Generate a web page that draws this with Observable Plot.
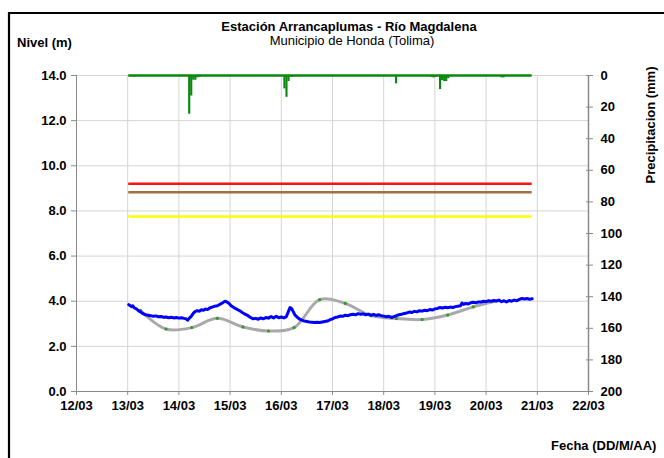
<!DOCTYPE html>
<html>
<head>
<meta charset="utf-8">
<script src="https://cdn.jsdelivr.net/npm/d3@7"></script>
<script src="https://cdn.jsdelivr.net/npm/@observablehq/plot@0.6"></script>
<style>
  body { margin: 0; background: #fff; }
  #chart { width: 664px; height: 458px; overflow: hidden; }
</style>
</head>
<body>
<div id="chart"></div>
<script>
// ---- Data ----
const titleText = "Estación Arrancaplumas - Río Magdalena";
const subtitleText = "Municipio de Honda (Tolima)";
const yLabelLeft = "Nivel (m)";
const yLabelRight = "Precipitacion (mm)";
const xLabel = "Fecha (DD/M/AA)";

// x: day of March
const dayTicks = [12, 13, 14, 15, 16, 17, 18, 19, 20, 21, 22];
const levelTicks = [0, 2, 4, 6, 8, 10, 12, 14];
const precipTicks = [0, 20, 40, 60, 80, 100, 120, 140, 160, 180, 200];

// alert thresholds (m)
const alertLevels = [9.2, 8.83, 7.75];
const alertColors = ["#ff1010", "#a07040", "#ffff00"];
const alertStart = 13.02;
const alertEnd = 20.9;

// observed level (blue)
const obsDay = [13.02,13.05,13.08,13.10,13.13,13.17,13.21,13.25,13.30,13.35,13.40,13.45,13.50,13.55,13.60,13.65,13.70,13.75,13.80,13.85,13.90,13.95,14.00,14.05,14.10,14.14,14.17,14.20,14.24,14.28,14.32,14.36,14.40,14.44,14.48,14.52,14.56,14.60,14.65,14.70,14.75,14.80,14.85,14.88,14.91,14.94,14.98,15.02,15.06,15.10,15.15,15.20,15.25,15.30,15.35,15.40,15.45,15.50,15.55,15.60,15.65,15.70,15.75,15.80,15.85,15.90,15.95,16.00,16.05,16.10,16.14,16.17,16.20,16.23,16.27,16.31,16.35,16.40,16.45,16.50,16.55,16.60,16.65,16.70,16.75,16.80,16.85,16.90,16.95,17.00,17.05,17.10,17.15,17.20,17.25,17.30,17.35,17.40,17.45,17.50,17.55,17.60,17.65,17.70,17.75,17.80,17.85,17.90,17.95,18.00,18.05,18.10,18.15,18.20,18.25,18.30,18.35,18.40,18.45,18.50,18.55,18.60,18.65,18.70,18.75,18.80,18.85,18.90,18.95,19.00,19.05,19.10,19.15,19.20,19.25,19.30,19.35,19.40,19.45,19.50,19.53,19.56,19.60,19.65,19.70,19.75,19.80,19.85,19.90,19.95,20.00,20.05,20.10,20.15,20.20,20.25,20.30,20.35,20.40,20.45,20.50,20.55,20.60,20.65,20.70,20.75,20.80,20.85,20.90];
const obsLevel = [3.85,3.80,3.76,3.80,3.70,3.66,3.58,3.52,3.45,3.40,3.38,3.36,3.33,3.35,3.31,3.32,3.29,3.30,3.27,3.29,3.26,3.28,3.25,3.27,3.24,3.22,3.16,3.24,3.33,3.46,3.55,3.58,3.56,3.62,3.60,3.66,3.63,3.70,3.74,3.78,3.80,3.86,3.92,3.97,4.00,3.96,3.90,3.80,3.74,3.68,3.62,3.56,3.48,3.42,3.36,3.28,3.22,3.24,3.20,3.26,3.22,3.28,3.25,3.32,3.26,3.33,3.27,3.30,3.26,3.32,3.55,3.72,3.68,3.55,3.38,3.30,3.22,3.16,3.12,3.10,3.08,3.07,3.06,3.07,3.06,3.08,3.10,3.12,3.18,3.22,3.28,3.30,3.34,3.33,3.38,3.36,3.40,3.42,3.40,3.45,3.42,3.44,3.40,3.43,3.38,3.41,3.37,3.40,3.36,3.34,3.31,3.33,3.28,3.32,3.36,3.40,3.42,3.46,3.48,3.52,3.50,3.55,3.53,3.58,3.56,3.60,3.58,3.63,3.61,3.66,3.68,3.72,3.70,3.73,3.71,3.74,3.72,3.76,3.78,3.80,3.92,3.86,3.90,3.88,3.93,3.95,3.93,3.97,3.96,4.00,3.98,4.02,4.00,4.03,4.01,4.05,3.98,4.02,3.97,4.03,4.00,4.05,4.02,4.08,4.12,4.10,4.12,4.09,4.11];

// forecast level (gray with green points)
const fcDay = [13.25,13.75,14.25,14.75,15.25,15.75,16.25,16.75,17.25,17.75,18.25,18.75,19.25,19.75,20.25];
const fcLevel = [3.59,2.77,2.83,3.24,2.86,2.68,2.83,4.07,3.90,3.36,3.23,3.19,3.39,3.75,4.03];

// hourly precipitation (mm), start day of each hour
const precipDay = [13.08,13.12,13.25,14.19,14.23,14.27,14.31,14.35,14.40,14.44,16.05,16.09,16.13,16.17,16.21,16.25,18.23,18.92,18.96,19.00,19.09,19.13,19.17,19.21,19.25,19.29,19.33,20.29,20.33];
const precipMm  = [0.8,1.0,0.8,24.5,13.0,3.0,3.0,1.5,1.2,0.6,8.5,13.8,3.8,1.0,1.0,0.8,5.3,1.2,1.5,1.2,8.9,3.2,3.8,3.8,2.0,0.8,0.6,1.5,1.5];
const precipStart = 13.02;
const precipEnd = 20.9;
const hour = 1 / 24;

// ---- Build tables ----
const obs = obsDay.map((d, i) => ({day: d, level: obsLevel[i]}));
const fc = fcDay.map((d, i) => ({day: d, level: fcLevel[i]}));
// right axis maps precipitation 0..200 (downwards) onto level 14..0
const mmToLevel = mm => 14 - mm * 14 / 200;
const precip = precipDay.map((d, i) => ({day: d, mm: precipMm[i]}));
const alerts = alertLevels.map((v, i) => ({level: v, color: alertColors[i]}));

const gridColor = "#d4d4d4";
const axisColor = "#8a8a8a";
const green = "#0b870b";

const plot = Plot.plot({
  width: 664,
  height: 458,
  marginLeft: 76,
  marginRight: 76,
  marginTop: 75,
  marginBottom: 67,
  style: {fontFamily: "'Liberation Sans', Arial, sans-serif", fontSize: "13px", fontWeight: "bold", color: "black", background: "transparent"},
  x: {type: "linear", domain: [12, 22]},
  y: {type: "linear", domain: [0, 14]},
  marks: [
    Plot.gridY(levelTicks.filter(v => v > 0), {stroke: gridColor, strokeOpacity: 1}),
    Plot.gridX(dayTicks.filter(d => d > 12 && d < 22), {stroke: gridColor, strokeOpacity: 1}),
    Plot.ruleX([12], {stroke: axisColor}),
    Plot.ruleX([22], {stroke: axisColor, strokeWidth: 1.5}),
    Plot.ruleY([0], {stroke: axisColor}),
    Plot.axisY(levelTicks, {anchor: "left", tickFormat: d => d.toFixed(1), tickSize: 5, tickPadding: 5, stroke: axisColor, fill: "black", label: null}),
    Plot.axisY(precipTicks.map(mmToLevel), {anchor: "right", tickFormat: v => String(Math.round((14 - v) * 200 / 14)), tickSize: 4, tickPadding: 8, stroke: axisColor, fill: "black", label: null}),
    Plot.axisY(precipTicks.map(mmToLevel), {anchor: "right", tickFormat: () => "", tickSize: 3, dx: -3, stroke: axisColor, label: null}),
    Plot.axisX(dayTicks, {anchor: "bottom", tickFormat: d => String(d).padStart(2, "0") + "/03", tickSize: 4, tickPadding: 5, stroke: axisColor, fill: "black", label: null}),
    // precipitation bars (inverted from top)
    Plot.rect(precip, {x1: "day", x2: d => d.day + hour, y1: 14, y2: d => mmToLevel(d.mm), fill: green}),
    Plot.ruleY([14], {x1: precipStart, x2: precipEnd, stroke: green, strokeWidth: 2.5}),
    // alert levels
    Plot.ruleY(alerts, {y: "level", x1: alertStart, x2: alertEnd, stroke: "color", strokeWidth: 2.5}),
    // forecast
    Plot.line(fc, {x: "day", y: "level", curve: "catmull-rom", stroke: "#a9a9a9", strokeWidth: 3}),
    Plot.dot(fc, {x: "day", y: "level", r: 1.6, fill: "#2e9a2e"}),
    // observed
    Plot.line(obs, {x: "day", y: "level", stroke: "#0000ff", strokeWidth: 3})
  ]
});

document.getElementById("chart").appendChild(plot);

const svg = d3.select(plot);
// outer frame
svg.append("path").attr("d", "M9,470V13H680").attr("fill", "none").attr("stroke", "black").attr("stroke-width", 2.2);

const addText = (txt, x, y, opts = {}) => {
  const t = svg.append("text").text(txt)
    .attr("x", x).attr("y", y)
    .attr("font-family", "'Liberation Sans', Arial, sans-serif")
    .attr("font-size", opts.size || 13)
    .attr("font-weight", opts.weight || "bold")
    .attr("text-anchor", opts.anchor || "start")
    .attr("fill", "black");
  if (opts.rotate) t.attr("transform", `rotate(${opts.rotate},${x},${y})`);
  return t;
};
addText(titleText, 349, 31, {anchor: "middle"});
addText(subtitleText, 352, 45, {anchor: "middle", weight: "normal"});
addText(yLabelLeft, 17, 47);
addText(yLabelRight, 655, 125, {anchor: "middle", rotate: -90});
addText(xLabel, 551, 450);
</script>
</body>
</html>
